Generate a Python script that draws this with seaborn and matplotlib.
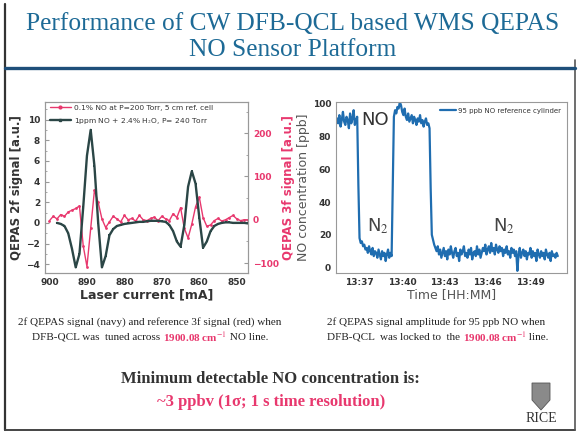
import numpy as np
import seaborn as sns
import matplotlib.pyplot as plt
from matplotlib.transforms import IdentityTransform
from matplotlib.patches import Polygon
from matplotlib.lines import Line2D
from matplotlib.ticker import MultipleLocator, FuncFormatter

# ---- left panel: laser current scan (mA) ----
current_2f = [898, 897, 896, 895, 894, 893, 892, 891, 890, 889, 888, 887, 886, 885,
              884, 883, 882, 881, 880, 879, 878, 877, 876, 875, 874, 873, 872, 871,
              870, 869, 868, 867, 866, 865, 864, 863, 862, 861, 860, 859, 858, 857,
              856, 855, 854, 853, 852, 851, 850, 849, 848, 847]
signal_2f = [0.0, -0.1, -0.3, -1.0, -2.5, -4.3, -3.0, 1.5, 6.5, 9.0, 5.5, 0.0, -4.3, -3.2,
             -1.2, -0.6, -0.3, -0.2, -0.1, -0.05, 0.0, 0.05, 0.1, 0.1, 0.15, 0.2, 0.2, 0.2,
             0.15, 0.1, -0.2, -0.8, -1.8, -2.3, -0.2, 3.5, 5.0, 3.8, 0.5, -2.4, -1.8, -0.8,
             -0.3, -0.1, 0.0, 0.05, 0.05, 0.0, 0.0, 0.0, 0.0, -0.05]

current_3f = [900, 899, 898, 897, 896, 895, 894, 893, 892, 891, 890, 889, 888, 887,
              886, 885, 884, 883, 882, 881, 880, 879, 878, 877, 876, 875, 874, 873,
              872, 871, 870, 869, 868, 867, 866, 865, 864, 863, 862, 861, 860, 859,
              858, 857, 856, 855, 854, 853, 852, 851, 850, 849, 848, 847]
signal_3f = [-2, 8, 2, 12, 8, 18, 22, 26, 32, -60, -108, -20, 68, 40,
             2, -18, -5, 8, 2, -5, 10, 0, 3, -3, 10, 0, -2, 3,
             6, -2, 8, 2, -2, 14, 5, 28, -20, -42, -10, 30, 52, 5,
             -15, -12, -2, 3, -3, 0, 5, 10, 2, -2, 0, 0]

# ---- right panel: NO concentration vs time (minutes after 13:00, 5 s steps) ----
seg_starts = [35.45, 37.03, 39.44, 42.1]
no_high_1 = [91, 88, 93, 86, 90, 95, 89, 87, 92, 90, 85, 94, 88, 91, 96, 87, 90, 92]
n2_low_1 = [18, 15, 16, 13, 14, 11, 12, 9, 13, 10, 8, 12, 7, 10, 9, 6, 11, 8, 5, 10,
            7, 9, 4, 8, 11, 6, 9, 7]
no_high_2 = [92, 96, 94, 98, 97, 101, 99, 95, 93, 97, 92, 90, 94, 89, 91, 93, 88, 92,
             90, 87, 91, 89, 93, 88, 90, 86, 89, 91, 87, 88, 85]
n2_low_2 = [20, 17, 14, 12, 10, 13, 8, 11, 6, 9, 12, 7, 10, 5, 11, 8, 13, 9, 6, 10,
            12, 7, 9, 4, 11, 8, 10, 13, 7, 9, 6, 11, 8, 12, 5, 9, 10, 7, 13, 8,
            11, 6, 9, 12, 10, 14, 8, 11, 13, 9, 15, 10, 12, 8, 14, 11, 9, 13, 10, 12,
            7, 11, 9, 13, 8, 10, 6, 12, 9, 11, 7, 10, -2, 8, 12, 6, 9, 11, 7, 10,
            5, 9, 8, 12, 6, 10, 7, 9, 4, 11, 8, 6, 10, 7, 9, 5, 11, 8, 6, 9,
            4, 10, 7, 8, 6, 9, 7]
transitions_t = [36.95, 39.36, 42.02]
transitions_v = [50, 50, 48]
time_ticks = [37, 40, 43, 46, 49]

segments = [no_high_1, n2_low_1, no_high_2, n2_low_2]
t_all, v_all = [], []
for i, (t0, seg) in enumerate(zip(seg_starts, segments)):
    t_all += list(t0 + np.arange(len(seg)) / 12.0)
    v_all += seg
    if i < len(transitions_t):
        t_all.append(transitions_t[i])
        v_all.append(transitions_v[i])

NAVY = "#2b4646"
RED = "#e8386e"
BLUE = "#1f6db0"
GRAYTXT = "#333333"

sns.set_style("white")
plt.rcParams["font.family"] = ["DejaVu Sans"]
plt.rcParams["mathtext.fontset"] = "stix"

fig = plt.figure(figsize=(5.78, 4.34), dpi=100)
fig.patch.set_facecolor("white")
H = 434
px = IdentityTransform()


def ftext(x, y, s, **kw):
    return fig.text(x, H - y, s, transform=px, **kw)


def rich_line(x, y, pieces, ha="center", **kw):
    renderer = fig.canvas.get_renderer()
    arts = []
    for s, c, w in pieces:
        t = ftext(0, y, s, color=c, fontweight=w, ha="left", va="center", **kw)
        arts.append(t)
    widths = [a.get_window_extent(renderer).width for a in arts]
    total = sum(widths)
    x0 = x - total / 2 if ha == "center" else x
    for a, w in zip(arts, widths):
        a.set_x(x0)
        x0 += w


# ---- slide frame and title ----
fig.add_artist(Line2D([5, 5], [H - 4, H - 430], transform=px, color="#333333", lw=1.6))
fig.add_artist(Line2D([5, 575], [H - 430, H - 430], transform=px, color="#444444", lw=1.4))
fig.add_artist(Line2D([575, 575], [H - 60, H - 430], transform=px, color="#555555", lw=1.2))
fig.add_artist(Line2D([5, 575], [H - 68, H - 68], transform=px, color="#1e4f7a", lw=2.4))

serif = "Liberation Serif"
ftext(293, 24, "Performance of CW DFB-QCL based WMS QEPAS", ha="center", va="center",
      family=serif, fontsize=18.3, color="#1d6a96")
ftext(293, 50, "NO Sensor Platform", ha="center", va="center",
      family=serif, fontsize=18.3, color="#1d6a96")

# ---- left chart ----
ax = fig.add_axes([45 / 578, 1 - 273 / 434, 203 / 578, 171 / 434])
ax2 = ax.twinx()
sns.lineplot(x=current_3f, y=signal_3f, ax=ax2, color=RED, lw=1.0, marker="o",
             markersize=2, markeredgewidth=0, sort=False, estimator=None)
sns.lineplot(x=current_2f, y=signal_2f, ax=ax, color=NAVY, lw=1.7, marker="s",
             markersize=2, markeredgewidth=0, sort=False, estimator=None)
ax.set_zorder(ax2.get_zorder() + 1)
ax.patch.set_visible(False)

ax.set_xlim(901.2, 847)
ax.set_ylim(-4.85, 11.7)
ax2.set_ylim(-123, 272)
ax.set_yticks(range(-4, 11, 2))
ax2.set_yticks([-100, 0, 100, 200])
ax.set_xticks(range(900, 849, -10))
ax.xaxis.set_minor_locator(MultipleLocator(5))
ax.yaxis.set_minor_locator(MultipleLocator(1))
ax2.yaxis.set_minor_locator(MultipleLocator(50))

for a in (ax, ax2):
    for sp in a.spines.values():
        sp.set_color("#999999")
        sp.set_linewidth(0.8)
ax.tick_params(which="both", direction="in", colors="#999999", labelcolor=GRAYTXT,
               labelsize=6.5, top=False)
ax.tick_params(which="major", length=3)
ax.tick_params(which="minor", length=1.5)
ax2.tick_params(which="both", direction="in", colors="#999999", labelcolor=RED,
                labelsize=6.5)
ax2.tick_params(which="major", length=3)
ax2.tick_params(which="minor", length=1.5)
for lab in ax.get_xticklabels() + ax.get_yticklabels() + ax2.get_yticklabels():
    lab.set_fontweight("bold")

ax.set_xlabel("Laser current [mA]", fontsize=9, fontweight="bold", color=GRAYTXT, labelpad=1)
ax.set_ylabel("QEPAS 2f signal [a.u.]", fontsize=8.5, fontweight="bold", color=GRAYTXT,
              labelpad=2)
ax2.set_ylabel("QEPAS 3f signal [a.u.]", fontsize=8.5, fontweight="bold", color=RED,
               labelpad=2)
ax2.set_xlabel("")

handles = [Line2D([], [], color=RED, lw=1.0, marker="o", markersize=2),
           Line2D([], [], color=NAVY, lw=1.7, marker="s", markersize=2)]
labels = ["0.1% NO at P=200 Torr, 5 cm ref. cell", "1ppm NO + 2.4% H$_2$O, P= 240 Torr"]
ax.legend(handles, labels, loc="upper left", bbox_to_anchor=(0.0, 1.01), fontsize=5.4,
          frameon=False, handlelength=2.8, handletextpad=0.4, labelspacing=0.6,
          borderaxespad=0.2, labelcolor=GRAYTXT)

# ---- right chart ----
bx = fig.add_axes([336 / 578, 1 - 273 / 434, 231 / 578, 171 / 434])
sns.lineplot(x=t_all, y=v_all, ax=bx, color=BLUE, lw=1.6, sort=False, estimator=None,
             label="95 ppb NO reference cylinder")
bx.set_xlim(35.38, 51.58)
bx.set_ylim(-3.3, 101)
bx.set_xticks(time_ticks)
bx.xaxis.set_major_formatter(FuncFormatter(lambda v, p: f"13:{int(round(v)):02d}"))
bx.xaxis.set_minor_locator(MultipleLocator(1.5))
bx.set_yticks(range(0, 101, 20))
bx.yaxis.set_minor_locator(MultipleLocator(10))
for sp in bx.spines.values():
    sp.set_color("#999999")
    sp.set_linewidth(0.8)
bx.tick_params(which="both", direction="in", colors="#999999", labelcolor=GRAYTXT,
               labelsize=6.5)
bx.tick_params(which="major", length=3)
bx.tick_params(which="minor", length=1.5)
for lab in bx.get_xticklabels() + bx.get_yticklabels():
    lab.set_fontweight("bold")
bx.set_xlabel("Time [HH:MM]", fontsize=9, color="#555555", labelpad=1)
bx.set_ylabel("NO concentration [ppb]", fontsize=9, color="#555555", labelpad=2)
bx.legend(loc="upper right", fontsize=5, frameon=False, handlelength=2.2,
          handletextpad=0.4, borderaxespad=0.4, labelcolor=GRAYTXT)

bx.text(38.15, 90, "NO", fontsize=13, color=GRAYTXT, ha="center", va="center")
bx.text(38.3, 25, "N$_2$", fontsize=13, color="#444444", ha="center", va="center")
bx.text(47.15, 25, "N$_2$", fontsize=13, color="#444444", ha="center", va="center")

# ---- captions ----
cap_kw = dict(family=serif, fontsize=8)
DARK = "#222222"
rich_line(150, 322, [("2f QEPAS signal (navy) and reference 3f signal (red) when", DARK,
                      "normal")], **cap_kw)
rich_line(150, 337, [("DFB-QCL was  tuned across ", DARK, "normal"),
                     ("1900.08 cm$^{-1}$", RED, "bold"), (" NO line.", DARK, "normal")],
          **cap_kw)
rich_line(327, 322, [("2f QEPAS signal amplitude for 95 ppb NO when", DARK, "normal")],
          ha="left", **cap_kw)
rich_line(327, 337, [("DFB-QCL  was locked to  the ", DARK, "normal"),
                     ("1900.08 cm$^{-1}$", RED, "bold"), (" line.", DARK, "normal")],
          ha="left", **cap_kw)

ftext(270, 379, "Minimum detectable NO concentration is:", ha="center", va="center",
      family=serif, fontsize=12, fontweight="bold", color=GRAYTXT)
ftext(271, 402, "~3 ppbv (1σ; 1 s time resolution)", ha="center", va="center",
      family=serif, fontsize=12, fontweight="bold", color=RED)

# ---- RICE mark ----
shield = [(532, 383), (550, 383), (550, 400), (541, 410), (532, 400)]
fig.add_artist(Polygon([(x, H - y) for x, y in shield], closed=True, transform=px,
                       facecolor="#8a8a8a", edgecolor="#555555", lw=0.6))
ftext(541, 418, "RICE", ha="center", va="center", family=serif, fontsize=10,
      color=GRAYTXT)

fig.savefig("out.png", dpi=100)
